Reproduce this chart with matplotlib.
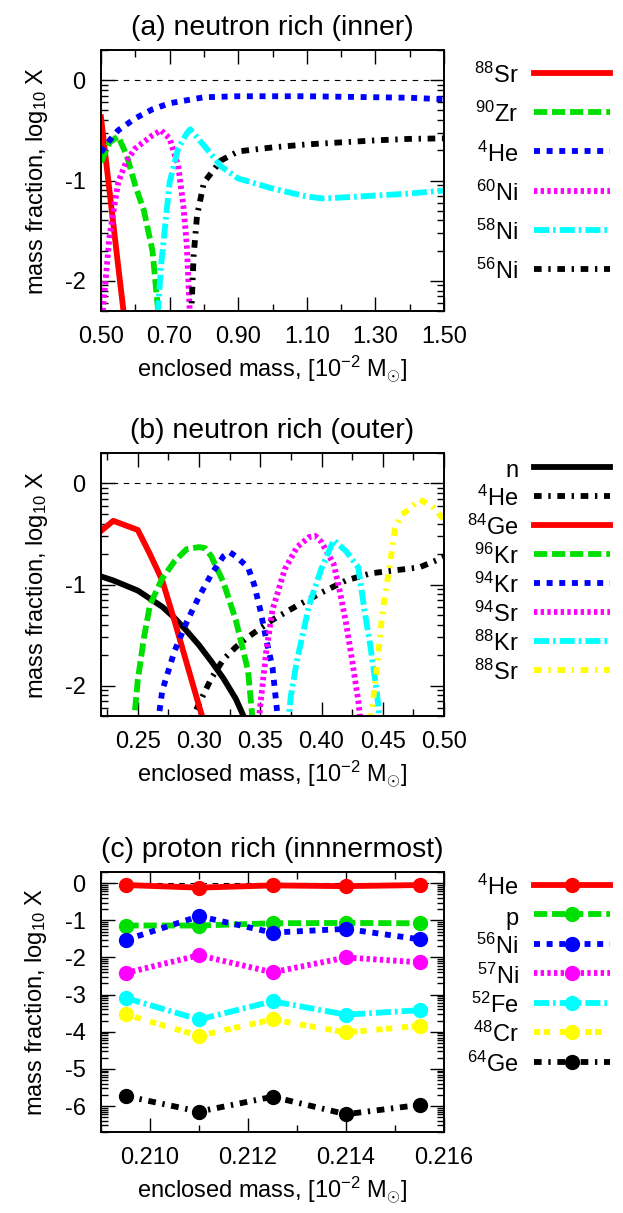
import numpy as np
import matplotlib
matplotlib.use("Agg")
import matplotlib.pyplot as plt
from matplotlib.ticker import FixedLocator, MultipleLocator, FormatStrFormatter

plt.rcParams['font.family'] = ['Liberation Sans', 'DejaVu Sans']
plt.rcParams['mathtext.fontset'] = 'custom'
plt.rcParams['mathtext.rm'] = 'Liberation Sans'
plt.rcParams['mathtext.it'] = 'Liberation Sans:italic'
plt.rcParams['axes.unicode_minus'] = False
plt.rcParams['lines.scale_dashes'] = False
plt.rcParams['font.size'] = 17

# ---- (a) neutron rich (inner) : log10 X vs enclosed mass ----
a_sr88_x = [0.50, 0.55, 0.60]
a_sr88_y = [-0.37, -1.85, -3.3]
a_zr90_x = [0.50, 0.525, 0.55, 0.575, 0.60, 0.625, 0.65, 0.675]
a_zr90_y = [-0.82, -0.62, -0.56, -0.75, -1.05, -1.30, -1.70, -2.6]
a_he4_x = [0.50, 0.525, 0.55, 0.60, 0.65, 0.70, 0.75, 0.80, 0.90, 1.00, 1.10, 1.20, 1.30, 1.40, 1.50]
a_he4_y = [-0.72, -0.60, -0.50, -0.38, -0.29, -0.23, -0.20, -0.17, -0.16, -0.16, -0.16, -0.165, -0.17, -0.175, -0.19]
a_ni60_x = [0.50, 0.525, 0.55, 0.575, 0.60, 0.65, 0.675, 0.70, 0.725, 0.74, 0.75, 0.76]
a_ni60_y = [-2.5, -1.55, -1.02, -0.80, -0.68, -0.55, -0.50, -0.58, -0.85, -1.25, -1.64, -2.4]
a_ni58_x = [0.66, 0.675, 0.70, 0.725, 0.75, 0.76, 0.80, 0.85, 0.90, 1.00, 1.10, 1.15, 1.20, 1.30, 1.40, 1.50]
a_ni58_y = [-2.6, -1.85, -1.02, -0.68, -0.53, -0.49, -0.65, -0.86, -0.98, -1.08, -1.16, -1.18, -1.17, -1.15, -1.13, -1.10]
a_ni56_x = [0.76, 0.77, 0.78, 0.80, 0.85, 0.90, 1.00, 1.10, 1.20, 1.30, 1.40, 1.50]
a_ni56_y = [-2.6, -1.75, -1.35, -1.02, -0.80, -0.71, -0.67, -0.64, -0.62, -0.60, -0.585, -0.58]
a_xticks = [0.5, 0.7, 0.9, 1.1, 1.3, 1.5]
a_xminor = [0.6, 0.8, 1.0, 1.2, 1.4]

# ---- (b) neutron rich (outer) ----
b_n_x = [0.22, 0.23, 0.25, 0.27, 0.28, 0.29, 0.30, 0.31, 0.32, 0.33, 0.34]
b_n_y = [-0.92, -0.96, -1.06, -1.22, -1.33, -1.46, -1.60, -1.76, -1.93, -2.13, -2.40]
b_he4_x = [0.29, 0.30, 0.31, 0.32, 0.33, 0.34, 0.36, 0.38, 0.40, 0.42, 0.44, 0.46, 0.48, 0.50]
b_he4_y = [-2.45, -2.18, -1.93, -1.74, -1.62, -1.52, -1.35, -1.21, -1.08, -0.96, -0.89, -0.86, -0.83, -0.73]
b_ge84_x = [0.22, 0.23, 0.25, 0.26, 0.27, 0.28, 0.29, 0.30, 0.31]
b_ge84_y = [-0.47, -0.37, -0.46, -0.70, -0.96, -1.36, -1.78, -2.20, -2.6]
b_kr96_x = [0.245, 0.25, 0.255, 0.26, 0.27, 0.28, 0.29, 0.30, 0.305, 0.31, 0.32, 0.33, 0.34, 0.345]
b_kr96_y = [-2.6, -1.95, -1.53, -1.20, -0.94, -0.77, -0.65, -0.63, -0.64, -0.72, -0.98, -1.35, -1.85, -2.5]
b_kr94_x = [0.265, 0.27, 0.28, 0.29, 0.30, 0.31, 0.32, 0.325, 0.33, 0.34, 0.345, 0.35, 0.355, 0.36, 0.365]
b_kr94_y = [-2.5, -2.05, -1.66, -1.37, -1.12, -0.90, -0.72, -0.68, -0.72, -0.83, -1.00, -1.25, -1.55, -1.82, -2.4]
b_sr94_x = [0.345, 0.35, 0.355, 0.36, 0.37, 0.38, 0.39, 0.395, 0.40, 0.41, 0.415, 0.42, 0.425, 0.43, 0.435]
b_sr94_y = [-2.8, -2.2, -1.65, -1.25, -0.85, -0.63, -0.53, -0.52, -0.58, -0.80, -1.07, -1.38, -1.75, -2.15, -2.7]
b_kr88_x = [0.37, 0.375, 0.38, 0.39, 0.40, 0.41, 0.42, 0.43, 0.435, 0.44, 0.445, 0.45]
b_kr88_y = [-2.7, -2.1, -1.75, -1.20, -0.84, -0.56, -0.67, -0.83, -1.25, -1.62, -2.05, -2.6]
b_sr88_x = [0.44, 0.445, 0.45, 0.455, 0.46, 0.465, 0.47, 0.48, 0.49, 0.50]
b_sr88_y = [-2.35, -1.85, -1.25, -0.87, -0.45, -0.31, -0.27, -0.16, -0.22, -0.36]

# ---- (c) proton rich (innermost) ----
c_x = [0.2095, 0.2110, 0.2125, 0.2140, 0.2155]
c_he4 = [-0.05, -0.12, -0.06, -0.08, -0.05]
c_p = [-1.14, -1.14, -1.08, -1.07, -1.08]
c_ni56 = [-1.53, -0.89, -1.33, -1.23, -1.51]
c_ni57 = [-2.42, -1.94, -2.40, -2.00, -2.13]
c_fe52 = [-3.09, -3.67, -3.18, -3.54, -3.42]
c_cr48 = [-3.53, -4.11, -3.67, -4.02, -3.84]
c_ge64 = [-5.73, -6.15, -5.75, -6.22, -5.97]

RED, GREEN, BLUE = '#ff0000', '#00e000', '#0000ff'
MAG, CYAN, YEL = '#ff00ff', '#00ffff', '#ffff00'
SOLID = '-'
DASH = (0, (9.5, 3.5))
DOT = (0, (4.3, 4.8))
FINE = (0, (2.4, 2.4))
DASHDOT = (0, (10.8, 2.9, 1.9, 2.9))
DOTDASH = (0, (5.5, 4.8, 1.7, 4.8))
YDASH = (0, (4.5, 2.5, 4.5, 7.0))
LW = 4.2

W, H = 623, 1213
fig = plt.figure(figsize=(W / 100, H / 100), dpi=100)


def box(top, bottom, left=101, right=444):
    return [left / W, 1 - bottom / H, (right - left) / W, (bottom - top) / H]


def style_axes(ax, ylo, hi):
    ax.set_ylim(ylo, hi)
    minors = [np.log10(k) + n for n in range(-8, 1) for k in range(2, 10)]
    minors = [m for m in minors if ylo <= m <= hi]
    ax.yaxis.set_minor_locator(FixedLocator(minors))
    ax.yaxis.set_major_locator(MultipleLocator(1))
    ax.yaxis.set_major_formatter(FormatStrFormatter('%d'))
    ax.tick_params(which='both', direction='in', top=True, right=True, width=1.0)
    ax.tick_params(which='major', length=10, pad=11)
    ax.tick_params(which='minor', length=5)
    for s in ax.spines.values():
        s.set_linewidth(1.4)
    ax.axhline(0, color='k', lw=0.8, dashes=(4, 4), zorder=0)
    ax.set_ylabel(r'mass fraction, log$_{10}$ X', labelpad=11)
    ax.set_xlabel(r'enclosed mass, [10$^{-2}$ M$_{\odot}$]', labelpad=4)


def legend(ax, top, spacing):
    ax.legend(loc='upper right', bbox_to_anchor=(610 / W, 1 - top / H),
              bbox_transform=fig.transFigure, markerfirst=False, frameon=False,
              handlelength=3.2, handletextpad=0.68, labelspacing=spacing,
              handleheight=1.2, borderpad=0, borderaxespad=0)


ylo, yhi = np.log10(5e-3), np.log10(2)

# panel (a)
ax = fig.add_axes(box(50, 311))
ax.plot(a_sr88_x, a_sr88_y, color=RED, lw=LW, ls=SOLID, label=r'$^{88}$Sr')
ax.plot(a_zr90_x, a_zr90_y, color=GREEN, lw=LW, ls=DASH, label=r'$^{90}$Zr')
ax.plot(a_he4_x, a_he4_y, color=BLUE, lw=LW, ls=DOT, label=r'$^{4}$He')
ax.plot(a_ni60_x, a_ni60_y, color=MAG, lw=LW, ls=FINE, label=r'$^{60}$Ni')
ax.plot(a_ni58_x, a_ni58_y, color=CYAN, lw=LW, ls=DASHDOT, label=r'$^{58}$Ni')
ax.plot(a_ni56_x, a_ni56_y, color='k', lw=LW, ls=DOTDASH, label=r'$^{56}$Ni')
ax.set_xlim(0.5, 1.5)
ax.xaxis.set_major_locator(FixedLocator(a_xticks))
ax.xaxis.set_minor_locator(FixedLocator(a_xminor))
ax.xaxis.set_major_formatter(FormatStrFormatter('%.2f'))
style_axes(ax, ylo, yhi)
ax.set_title('(a) neutron rich (inner)', pad=11)
legend(ax, 63, 0.59)

# panel (b)
ax = fig.add_axes(box(453, 716))
ax.plot(b_n_x, b_n_y, color='k', lw=LW, ls=SOLID, label='n')
ax.plot(b_he4_x, b_he4_y, color='k', lw=LW, ls=DOTDASH, label=r'$^{4}$He')
ax.plot(b_ge84_x, b_ge84_y, color=RED, lw=LW, ls=SOLID, label=r'$^{84}$Ge')
ax.plot(b_kr96_x, b_kr96_y, color=GREEN, lw=LW, ls=DASH, label=r'$^{96}$Kr')
ax.plot(b_kr94_x, b_kr94_y, color=BLUE, lw=LW, ls=DOT, label=r'$^{94}$Kr')
ax.plot(b_sr94_x, b_sr94_y, color=MAG, lw=LW, ls=FINE, label=r'$^{94}$Sr')
ax.plot(b_kr88_x, b_kr88_y, color=CYAN, lw=LW, ls=DASHDOT, label=r'$^{88}$Kr')
ax.plot(b_sr88_x, b_sr88_y, color=YEL, lw=LW, ls=DOTDASH, label=r'$^{88}$Sr')
ax.set_xlim(0.22, 0.50)
ax.xaxis.set_major_locator(MultipleLocator(0.05))
ax.xaxis.set_minor_locator(MultipleLocator(0.025))
ax.xaxis.set_major_formatter(FormatStrFormatter('%.2f'))
style_axes(ax, ylo, yhi)
ax.set_title('(b) neutron rich (outer)', pad=11)
legend(ax, 457, 0.16)

# panel (c)
ax = fig.add_axes(box(872, 1132))
mk = dict(marker='o', ms=10, lw=LW)
ax.plot(c_x, c_he4, color=RED, ls=SOLID, label=r'$^{4}$He', **mk)
ax.plot(c_x, c_p, color=GREEN, ls=DASH, label='p', **mk)
ax.plot(c_x, c_ni56, color=BLUE, ls=DOT, label=r'$^{56}$Ni', **mk)
ax.plot(c_x, c_ni57, color=MAG, ls=FINE, label=r'$^{57}$Ni', **mk)
ax.plot(c_x, c_fe52, color=CYAN, ls=DASHDOT, label=r'$^{52}$Fe', **mk)
ax.plot(c_x, c_cr48, color=YEL, ls=YDASH, label=r'$^{48}$Cr', **mk)
ax.plot(c_x, c_ge64, color='k', ls=DOTDASH, label=r'$^{64}$Ge', **mk)
ax.set_xlim(0.209, 0.216)
ax.xaxis.set_major_locator(MultipleLocator(0.002))
ax.xaxis.set_minor_locator(FixedLocator([0.209, 0.211, 0.213, 0.215]))
ax.xaxis.set_major_formatter(FormatStrFormatter('%.3f'))
style_axes(ax, np.log10(2e-7), yhi)
ax.set_title('(c) proton rich (innnermost)', pad=11)
legend(ax, 875, 0.18)

fig.savefig('out.png', dpi=100)
